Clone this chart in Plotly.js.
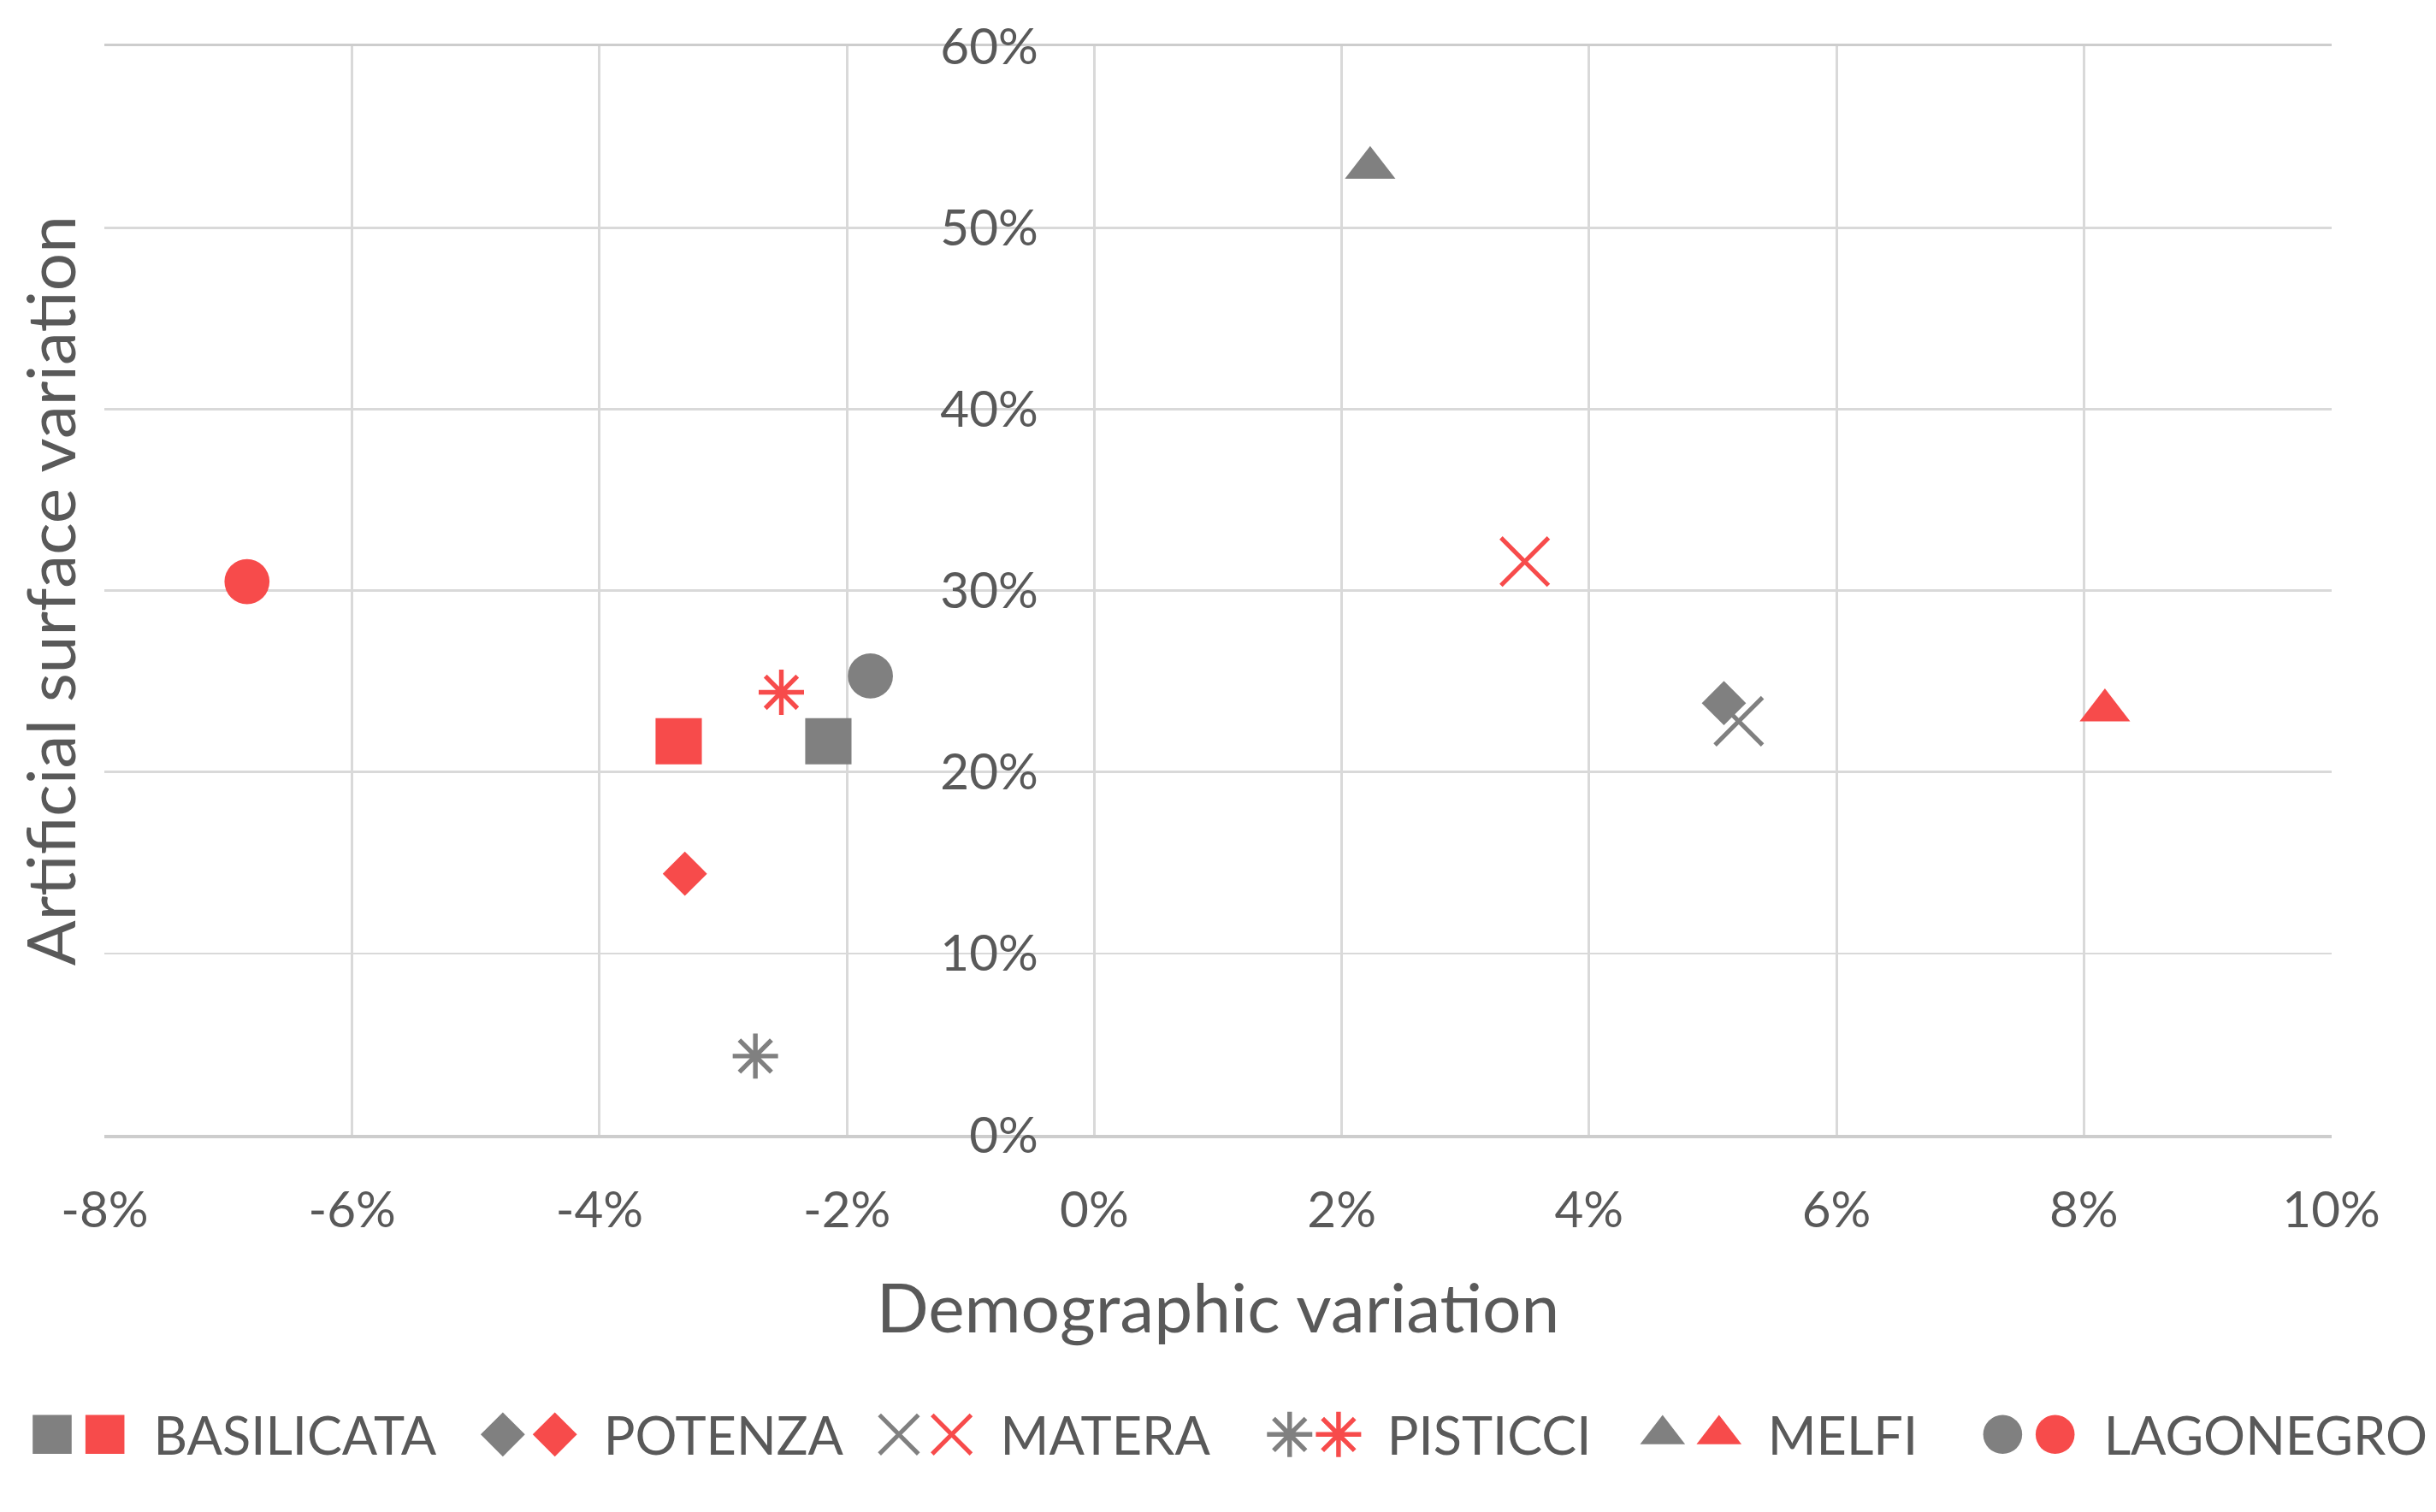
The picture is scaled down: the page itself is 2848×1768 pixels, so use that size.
<!DOCTYPE html>
<html>
<head>
<meta charset="utf-8">
<script src="https://cdn.plot.ly/plotly-3.0.1.min.js"></script>
<style>
html, body { margin: 0; padding: 0; background: #ffffff; overflow: hidden; }
#wrap { width: 2848px; height: 1768px; overflow: hidden; background: #ffffff; }
#chart { width: 1000px; height: 621px; transform: scale(2.848); transform-origin: 0 0; }
</style>
</head>
<body>
<div id="wrap"><div id="chart"></div></div>
<script>
// ---------- data ----------
const regions = ['BASILICATA', 'POTENZA', 'MATERA', 'PISTICCI', 'MELFI', 'LAGONEGRO'];
// grey series
const greyDemographic = [-2.15, 5.09, 5.21, -2.74, 2.23, -1.81];
const greyArtificial  = [21.7, 23.8, 22.8, 4.35, 53.3, 25.3];
// red series
const redDemographic = [-3.36, -3.31, 3.48, -2.53, 8.17, -6.85];
const redArtificial  = [21.7, 14.4, 31.6, 24.4, 23.4, 30.5];

const xTickVals = [-8, -6, -4, -2, 0, 2, 4, 6, 8, 10];
const xTickText = ['-8%', '-6%', '-4%', '-2%', '0%', '2%', '4%', '6%', '8%', '10%'];
const yTickVals = [0, 10, 20, 30, 40, 50, 60];
const yTickText = ['0%', '10%', '20%', '30%', '40%', '50%', '60%'];

// ---------- style ----------
const GREY = '#808080';
const RED = '#F74B4B';
const TEXT = '#595959';
const GRID = '#D9D9D9';
const FONT = 'Lato, "Open Sans", sans-serif';

const symbols = ['square', 'diamond', 'x-thin', 'asterisk', 'triangle-up', 'circle'];
const sizes   = [19, 14, 19.5, 15.5, 18, 18.5];
const lineW   = [0, 0, 1.8, 1.9, 0, 0];
// legend entry widths (px) so the entries sit where the reference puts them
const redLegendWidths  = [139.7, 117.9, 113.8, 111.2, 75, 140];
const redLegendIds     = ['legend', 'legend', 'legend', 'legend', 'legend', 'legend3'];
const greyLegendWidths = [140, 117.6, 115.4, 108.1, 94.6, 10];

const traces = [];
regions.forEach((r, i) => {
  traces.push({
    type: 'scatter', mode: 'markers',
    x: [greyDemographic[i]], y: [greyArtificial[i]],
    name: ' ', legend: 'legend2', legendwidth: greyLegendWidths[i],
    xaxis: 'x', yaxis: 'y',
    marker: { symbol: symbols[i], size: sizes[i], color: GREY,
              line: { color: GREY, width: lineW[i] } },
    hoverinfo: 'skip'
  });
});
regions.forEach((r, i) => {
  traces.push({
    type: 'scatter', mode: 'markers',
    x: [redDemographic[i]], y: [redArtificial[i]],
    name: r, legend: redLegendIds[i], legendwidth: redLegendWidths[i],
    xaxis: 'x', yaxis: 'y2',
    marker: { symbol: symbols[i], size: sizes[i], color: RED,
              line: { color: RED, width: lineW[i] } },
    hoverinfo: 'skip'
  });
});

const legendBase = {
  orientation: 'h', xanchor: 'left', yanchor: 'middle', y: -0.2751,
  bgcolor: 'rgba(0,0,0,0)', borderwidth: 0, traceorder: 'normal',
  font: { family: FONT, size: 21.5, color: TEXT }
};

const layout = {
  width: 1000, height: 621,
  margin: { l: 42.7, r: 43.4, t: 19.1, b: 154.8, pad: 0, autoexpand: false },
  paper_bgcolor: '#ffffff', plot_bgcolor: '#ffffff',
  font: { family: FONT, color: TEXT },
  showlegend: true,
  legend: Object.assign({}, legendBase, { x: -0.0218 }),
  legend2: Object.assign({}, legendBase, { x: -0.0455 }),
  legend3: Object.assign({}, legendBase, { x: 0.8541 }),
  xaxis: {
    range: [-8, 10], tickmode: 'array', tickvals: xTickVals, ticktext: xTickText,
    ticks: '', showgrid: true, gridcolor: GRID, gridwidth: 1,
    zeroline: false, showline: true, mirror: true, linecolor: '#CDCDCD', linewidth: 1.2,
    ticklabelstandoff: 12,
    tickfont: { family: FONT, size: 20.5, color: TEXT },
    title: { text: 'Demographic variation', font: { family: FONT, size: 28.2, color: TEXT }, standoff: 20 },
    automargin: false, fixedrange: true
  },
  yaxis: {
    range: [0, 60], tickmode: 'array', tickvals: yTickVals, ticktext: yTickText,
    showticklabels: false, ticks: '', showgrid: true, gridcolor: GRID, gridwidth: 1,
    zeroline: false, showline: false,
    title: { text: 'Artificial surface variation', font: { family: FONT, size: 27.5, color: TEXT }, standoff: 2 },
    automargin: true, fixedrange: true
  },
  yaxis2: {
    range: [0, 60], overlaying: 'y', anchor: 'free', position: 8 / 18, side: 'left',
    tickmode: 'array', tickvals: yTickVals, ticktext: yTickText,
    ticks: '', showgrid: false, zeroline: false, showline: false,
    ticklabelstandoff: 23,
    tickfont: { family: FONT, size: 20.5, color: TEXT },
    automargin: false, fixedrange: true
  }
};

Plotly.newPlot('chart', traces, layout, { staticPlot: true, displayModeBar: false, responsive: false });
</script>
</body>
</html>
